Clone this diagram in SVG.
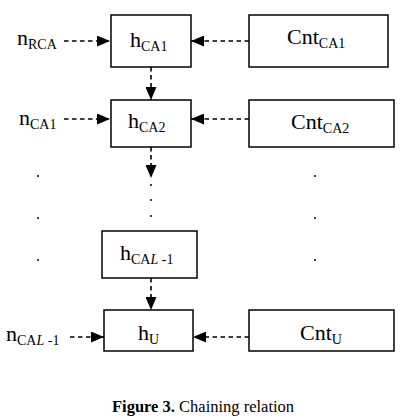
<svg xmlns="http://www.w3.org/2000/svg" width="409" height="418" viewBox="0 0 409 418">
<defs>
<marker id="ah" markerUnits="userSpaceOnUse" markerWidth="13" markerHeight="11" refX="13" refY="5.5" orient="auto">
<path d="M0,0 L13,5.5 L0,11 Z" fill="#000"/>
</marker>
<style>
.box{fill:#fff;stroke:#000;stroke-width:1.5}
.con{stroke:#000;stroke-width:1.6;stroke-dasharray:4.5 3.5;fill:none;marker-end:url(#ah)}
.t{font-family:"Liberation Serif",serif;font-size:22px;fill:#000}
.s{font-size:14px}
.dot{fill:#000}
.cap{font-family:"Liberation Serif",serif;font-size:16.5px;fill:#000}
</style>
</defs>
<rect width="409" height="418" fill="#fff"/>
<g id="connectors">
<line class="con" x1="64" y1="41" x2="110" y2="41"/>
<line class="con" x1="249" y1="41" x2="191" y2="41"/>
<line class="con" x1="151" y1="67" x2="151" y2="100"/>
<line class="con" x1="64" y1="119" x2="110" y2="119"/>
<line class="con" x1="249" y1="119" x2="191" y2="119"/>
<line class="con" x1="151" y1="147" x2="151" y2="178"/>
<line class="con" x1="151" y1="278" x2="151" y2="310"/>
<line class="con" x1="70" y1="337" x2="104" y2="337"/>
<line class="con" x1="249" y1="337" x2="193" y2="337"/>
</g>
<g id="n_RCA"><text class="t" x="17" y="45">n<tspan class="s" dy="4">RCA</tspan></text></g>
<g id="n_CA1"><text class="t" x="19" y="125">n<tspan class="s" dy="4">CA1</tspan></text></g>
<g id="n_CAL1"><text class="t" x="6" y="341">n<tspan class="s" dy="4">CA<tspan font-style="italic">L</tspan> -1</tspan></text></g>
<g id="h_CA1"><rect class="box" x="111" y="15" width="80" height="52"/><text class="t" x="130" y="47">h<tspan class="s" dy="4">CA1</tspan></text></g>
<g id="h_CA2"><rect class="box" x="111" y="100" width="80" height="47"/><text class="t" x="128" y="128">h<tspan class="s" dy="4">CA2</tspan></text></g>
<g id="h_CAL1"><rect class="box" x="102" y="231" width="95" height="47"/><text class="t" x="120" y="260">h<tspan class="s" dy="4">CA<tspan font-style="italic">L</tspan> -1</tspan></text></g>
<g id="h_U"><rect class="box" x="104" y="310" width="89" height="41"/><text class="t" x="138" y="340">h<tspan class="s" dy="4">U</tspan></text></g>
<g id="Cnt_CA1"><rect class="box" x="249" y="15" width="139" height="52"/><text class="t" x="287" y="44">Cnt<tspan class="s" dy="4">CA1</tspan></text></g>
<g id="Cnt_CA2"><rect class="box" x="249" y="100" width="145" height="47"/><text class="t" x="291" y="129">Cnt<tspan class="s" dy="4">CA2</tspan></text></g>
<g id="Cnt_U"><rect class="box" x="249" y="310" width="145" height="41"/><text class="t" x="300" y="340">Cnt<tspan class="s" dy="4">U</tspan></text></g>
<g id="dots">
<circle class="dot" cx="151" cy="185" r="1"/>
<circle class="dot" cx="151" cy="200" r="1"/>
<circle class="dot" cx="151" cy="216" r="1"/>
<circle class="dot" cx="38" cy="176" r="1"/>
<circle class="dot" cx="38" cy="218" r="1"/>
<circle class="dot" cx="38" cy="260" r="1"/>
<circle class="dot" cx="315" cy="176" r="1"/>
<circle class="dot" cx="315" cy="218" r="1"/>
<circle class="dot" cx="315" cy="260" r="1"/>
</g>
<text class="cap" x="112" y="412"><tspan font-weight="bold">Figure 3.</tspan> Chaining relation</text>
</svg>
